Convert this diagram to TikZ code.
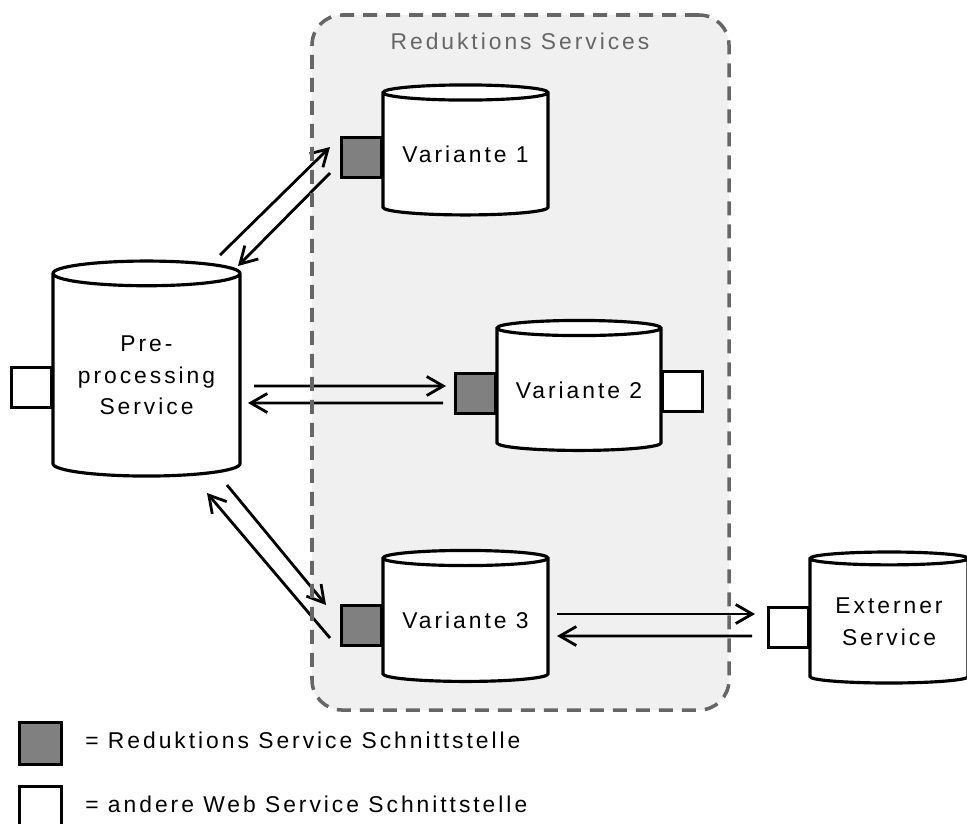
\documentclass[tikz,border=0pt]{standalone}
\usepackage{fontspec}
\setmainfont[LetterSpace=13]{Liberation Sans}
\usepackage{tikz}
\usetikzlibrary{positioning,arrows.meta,shapes.geometric}
\definecolor{grpbg}{HTML}{F0F0F0}
\definecolor{grpedge}{HTML}{666666}
\definecolor{portgray}{HTML}{808080}
\newcommand{\svcfont}{\fontsize{13}{18}\selectfont}

\begin{document}
\begin{tikzpicture}[x=0.2mm, y=-0.2mm,
  svc/.style={cylinder, shape border rotate=90, aspect=0.12, draw, line width=1.8pt, fill=white, align=center, inner sep=0pt, font=\svcfont},
  rport/.style={draw, line width=1.7pt, fill=portgray, minimum size=8mm, inner sep=0pt},
  wport/.style={rport, fill=white},
  arr/.style={-{Straight Barb[length=3.3mm,width=3.8mm]}, line width=1.6pt},
  grp/.style={rounded corners=6mm, minimum width=83.4mm, minimum height=139mm, inner sep=0pt},
  lbl/.style={font=\svcfont, inner sep=0pt}
]
\useasboundingbox (0,0) rectangle (967,823);

% group of reduction services
\node[grp, fill=grpbg] (grp) at (520.5,362.5) {};
\node[lbl, text=grpedge, anchor=base] (grptitle) at (520,49) {Reduktions Services};

% services
\node[svc, minimum width=33mm, minimum height=26mm] (v1) at (465.5,154.5) {Variante 1};
\node[rport, anchor=east] (v1p) at (383,157) {};

\node[svc, aspect=0.18, minimum width=37.4mm, minimum height=43mm] (pre) at (146.5,375.5) {Pre-\\processing\\Service};
\node[wport, anchor=east] (prep) at (53,387) {};

\node[svc, minimum width=32.8mm, minimum height=26mm] (v2) at (579,390) {Variante 2};
\node[rport, anchor=east] (v2p) at (497,393) {};
\node[wport, anchor=west] (v2q) at (661,391) {};

\node[svc, minimum width=33mm, minimum height=26.2mm] (v3) at (465.5,620.5) {Variante 3};
\node[rport, anchor=east] (v3p) at (383,625.5) {};

\node[svc, minimum width=31.6mm, minimum height=26.2mm] (ext) at (889,621.5) {Externer\\Service};
\node[wport, anchor=east] (extp) at (810,627) {};

% requests and answers
\draw[arr] ([shift={(73.5,-120.5)}]pre.center) -- ([shift={(-10,-10)}]v1p.west);
\draw[arr] ([shift={(-10,16)}]v1p.west) -- ([shift={(91.5,-109.5)}]pre.center);
\draw[arr] ([shift={(107.5,10.5)}]pre.center) -- ([shift={(-8,-7)}]v2p.west);
\draw[arr] ([shift={(-11,10)}]v2p.west) -- ([shift={(101.5,27.5)}]pre.center);
\draw[arr] ([shift={(80.5,109.5)}]pre.center) -- ([shift={(-14,-20.5)}]v3p.west);
\draw[arr] ([shift={(-10,12.5)}]v3p.west) -- ([shift={(60.5,117.5)}]pre.center);
\draw[arr] ([shift={(91.5,-6.5)}]v3.center) -- ([shift={(-12,-13)}]extp.west);
\draw[arr] ([shift={(-15,9)}]extp.west) -- ([shift={(91.5,15.5)}]v3.center);

% dashed border on top of the arrows
\node[grp, draw=grpedge, line width=2pt, dash pattern=on 2.8mm off 1.8mm] (grpline) at (grp.center) {};

% legend
\node[rport, minimum size=8.4mm] (legr) at (40.5,743.5) {};
\node[lbl, anchor=base west] (legrtxt) at (85,748) {= Reduktions Service Schnittstelle};
\node[wport, minimum size=8.4mm] (legw) at (40.5,807) {};
\node[lbl, anchor=base west] (legwtxt) at (85,812) {= andere Web Service Schnittstelle};
\end{tikzpicture}
\end{document}
